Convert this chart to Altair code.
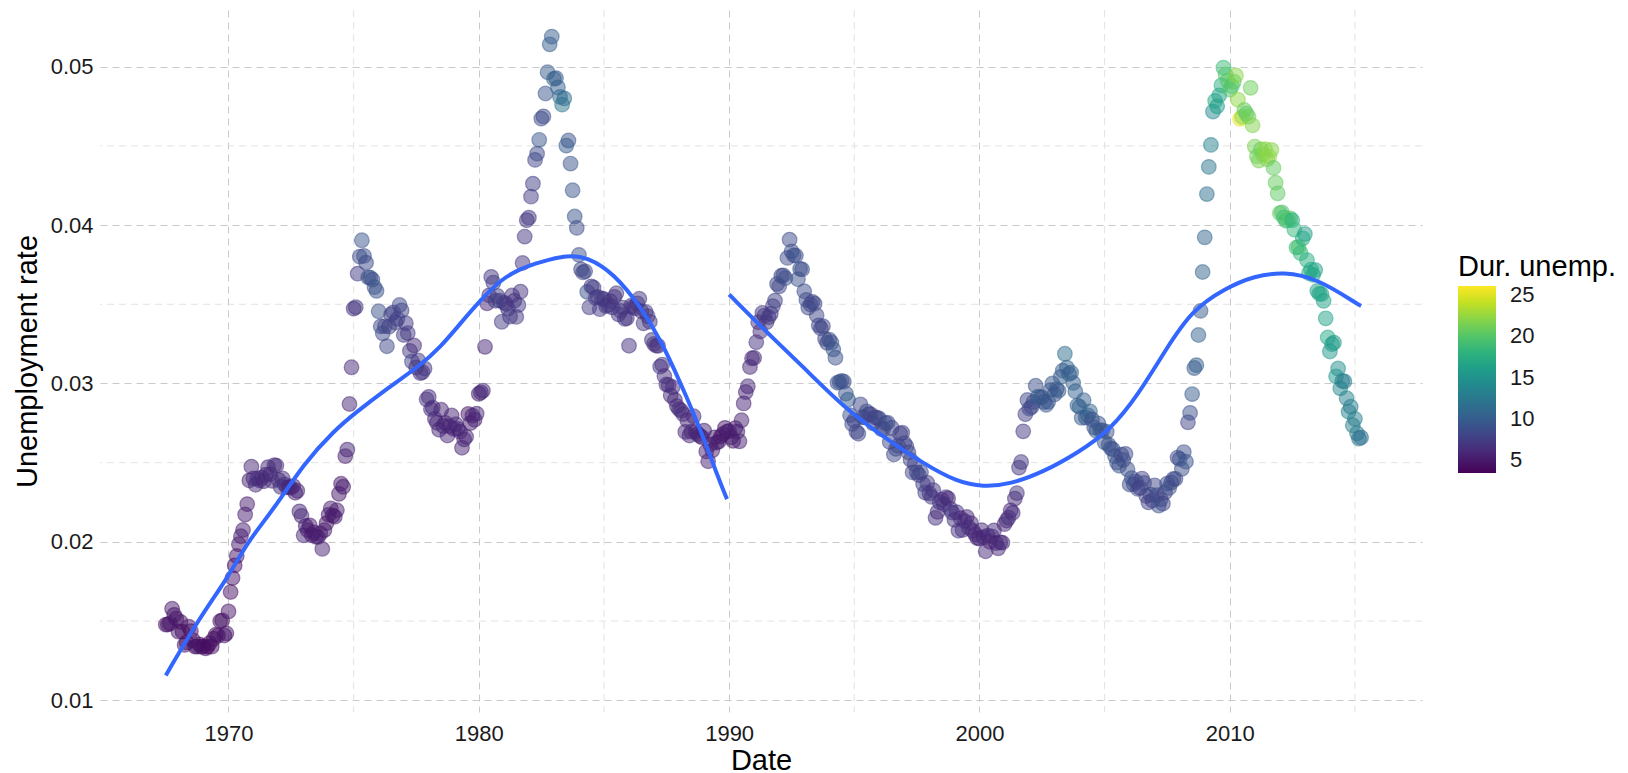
import altair as alt
import pandas as pd

# unemployed persons (thousands), monthly, Jul 1967 .. Apr 2015
unemployed = {
    1967: [2944, 2945, 2958, 3143, 3066, 3018],
    1968: [2878, 3001, 2877, 2709, 2740, 2938, 2883, 2768, 2686, 2689, 2715, 2685],
    1969: [2718, 2692, 2712, 2758, 2713, 2816, 2868, 2856, 3040, 3049, 2856, 2884],
    1970: [3201, 3453, 3635, 3797, 3919, 4071, 4175, 4256, 4456, 4591, 4898, 5076],
    1971: [4986, 4903, 4987, 4959, 4996, 4949, 5035, 5134, 5042, 4954, 5161, 5154],
    1972: [5019, 4928, 5038, 4959, 4922, 4923, 4913, 4939, 4849, 4875, 4602, 4543],
    1973: [4326, 4452, 4394, 4459, 4329, 4363, 4305, 4305, 4350, 4144, 4396, 4489],
    1974: [4644, 4731, 4634, 4618, 4705, 4927, 5063, 5022, 5437, 5523, 6140, 6636],
    1975: [7501, 7520, 7978, 8210, 8433, 8220, 8127, 7928, 7923, 7897, 7794, 7744],
    1976: [7534, 7326, 7230, 7330, 7053, 7322, 7490, 7518, 7380, 7430, 7620, 7545],
    1977: [7280, 7443, 7307, 7059, 6911, 7134, 6829, 6925, 6751, 6763, 6815, 6386],
    1978: [6489, 6318, 6337, 6180, 6127, 6028, 6309, 6080, 6125, 5947, 6077, 6228],
    1979: [6109, 6173, 6109, 6069, 5840, 5959, 5996, 6320, 6190, 6296, 6238, 6325],
    1980: [6683, 6702, 6729, 7358, 7984, 8098, 8363, 8281, 8021, 8088, 8023, 7718],
    1981: [8071, 8051, 7982, 7869, 8174, 8098, 7863, 8036, 8230, 8646, 9029, 9267],
    1982: [9397, 9705, 9895, 10244, 10335, 10538, 10849, 10881, 11217, 11529, 11938, 12051],
    1983: [11534, 11545, 11408, 11268, 11154, 11246, 10548, 10623, 10282, 9887, 9499, 9331],
    1984: [9008, 8791, 8746, 8762, 8456, 8226, 8537, 8519, 8367, 8381, 8198, 8358],
    1985: [8423, 8321, 8339, 8395, 8302, 8460, 8513, 8196, 8248, 8298, 8128, 8138],
    1986: [7795, 8402, 8383, 8364, 8439, 8508, 8319, 8135, 8310, 8243, 8159, 7883],
    1987: [7892, 7865, 7862, 7542, 7574, 7398, 7268, 7261, 7102, 7227, 7035, 6936],
    1988: [6953, 6929, 6876, 6601, 6779, 6546, 6605, 6843, 6604, 6568, 6537, 6518],
    1989: [6682, 6359, 6205, 6468, 6375, 6577, 6495, 6511, 6590, 6630, 6725, 6667],
    1990: [6752, 6651, 6598, 6797, 6742, 6590, 6922, 7188, 7368, 7459, 7764, 7901],
    1991: [8015, 8265, 8586, 8439, 8736, 8692, 8586, 8666, 8722, 8842, 8931, 9198],
    1992: [9283, 9454, 9460, 9415, 9744, 10040, 9850, 9787, 9781, 9398, 9565, 9557],
    1993: [9325, 9183, 9056, 9110, 9149, 9121, 8930, 8763, 8714, 8750, 8542, 8477],
    1994: [8630, 8583, 8470, 8331, 7915, 7927, 7946, 7933, 7734, 7632, 7375, 7230],
    1995: [7375, 7187, 7153, 7645, 7430, 7427, 7527, 7484, 7478, 7328, 7426, 7423],
    1996: [7491, 7313, 7318, 7415, 7423, 7095, 7337, 6882, 6979, 7031, 7236, 7253],
    1997: [7158, 7102, 7000, 6873, 6655, 6799, 6655, 6608, 6656, 6454, 6308, 6476],
    1998: [6368, 6306, 6422, 5941, 6047, 6212, 6259, 6179, 6300, 6280, 6100, 6032],
    1999: [5976, 6111, 5783, 6004, 5796, 5951, 6025, 5838, 5915, 5778, 5716, 5653],
    2000: [5708, 5858, 5733, 5481, 5758, 5651, 5747, 5853, 5625, 5534, 5639, 5634],
    2001: [6023, 6089, 6141, 6271, 6226, 6484, 6583, 7042, 7142, 7694, 8003, 8258],
    2002: [8182, 8215, 8304, 8599, 8399, 8393, 8390, 8304, 8251, 8307, 8520, 8640],
    2003: [8520, 8618, 8588, 8842, 8957, 9266, 9011, 8896, 8921, 8732, 8576, 8317],
    2004: [8370, 8167, 8491, 8170, 8212, 8286, 8136, 7990, 7927, 8061, 7932, 7934],
    2005: [7784, 7980, 7737, 7672, 7651, 7524, 7406, 7345, 7553, 7453, 7566, 7279],
    2006: [7064, 7184, 7072, 7120, 6980, 7001, 7175, 7091, 6847, 6727, 6872, 6762],
    2007: [7116, 6927, 6731, 6850, 6766, 6979, 7149, 7067, 7170, 7237, 7240, 7645],
    2008: [7685, 7497, 7822, 7637, 8395, 8575, 8937, 9438, 9494, 10074, 10538, 11286],
    2009: [12058, 12898, 13426, 13853, 14499, 14707, 14601, 14814, 15009, 15352, 15219, 15098],
    2010: [15046, 15113, 15202, 15325, 14849, 14474, 14512, 14648, 14579, 14516, 15081, 14348],
    2011: [14013, 13820, 13737, 13957, 13855, 13962, 13763, 13818, 13948, 13594, 13302, 13093],
    2012: [12797, 12813, 12713, 12646, 12660, 12692, 12656, 12471, 12115, 12124, 12005, 12298],
    2013: [12471, 11950, 11689, 11760, 11654, 11751, 11335, 11279, 11270, 11136, 10787, 10404],
    2014: [10202, 10349, 10380, 9702, 9859, 9460, 9608, 9599, 9262, 8990, 9090, 8717],
    2015: [8903, 8610, 8504, 8526],
}

# population (thousands), mid-year
population = {
    1967: 199200, 1968: 200700, 1969: 202700, 1970: 205100, 1971: 207700,
    1972: 209900, 1973: 211900, 1974: 213900, 1975: 216000, 1976: 218000,
    1977: 220200, 1978: 222600, 1979: 225100, 1980: 227700, 1981: 229900,
    1982: 232200, 1983: 234300, 1984: 236300, 1985: 238500, 1986: 240700,
    1987: 242800, 1988: 245000, 1989: 247300, 1990: 250100, 1991: 253500,
    1992: 256900, 1993: 260300, 1994: 263400, 1995: 266600, 1996: 269700,
    1997: 272900, 1998: 276100, 1999: 279300, 2000: 282400, 2001: 285200,
    2002: 288000, 2003: 290700, 2004: 293400, 2005: 296100, 2006: 299000,
    2007: 301900, 2008: 304700, 2009: 307400, 2010: 309900, 2011: 311700,
    2012: 314000, 2013: 316200, 2014: 318600, 2015: 320600,
}

# median duration of unemployment (weeks)
duration = {
    1967: [4.5, 4.7, 4.6, 4.9, 4.7, 4.8],
    1968: [5.1, 4.5, 4.1, 4.6, 4.4, 4.4, 4.5, 4.2, 4.6, 4.8, 4.4, 4.4],
    1969: [4.4, 4.9, 4.0, 4.0, 4.2, 4.4, 4.4, 4.4, 4.7, 4.5, 4.8, 4.6],
    1970: [4.6, 4.5, 4.6, 4.1, 4.7, 4.9, 5.1, 5.4, 5.2, 5.2, 5.6, 5.9],
    1971: [6.2, 6.3, 6.4, 6.5, 6.7, 5.7, 6.2, 6.4, 5.8, 6.5, 6.4, 6.2],
    1972: [6.2, 6.6, 6.6, 6.7, 6.6, 5.4, 6.1, 6.0, 5.6, 5.7, 5.7, 6.1],
    1973: [5.7, 5.2, 5.5, 5.0, 4.9, 5.0, 5.2, 4.9, 5.4, 5.5, 5.1, 4.7],
    1974: [5.0, 5.1, 4.8, 5.0, 5.1, 4.7, 5.0, 5.1, 5.1, 5.7, 5.7, 6.0],
    1975: [6.3, 7.1, 7.2, 8.7, 9.4, 8.8, 8.6, 9.2, 9.2, 8.6, 9.5, 9.0],
    1976: [9.0, 8.2, 8.7, 8.2, 8.3, 7.8, 7.7, 7.9, 7.8, 7.7, 8.4, 8.0],
    1977: [7.5, 7.2, 7.2, 7.3, 7.9, 6.2, 7.1, 7.0, 6.7, 6.9, 7.0, 6.8],
    1978: [6.5, 6.7, 6.2, 6.1, 5.7, 6.0, 5.8, 5.8, 5.6, 5.9, 5.5, 5.6],
    1979: [5.9, 5.9, 5.9, 5.4, 5.6, 5.6, 5.9, 4.8, 5.5, 5.5, 5.3, 5.7],
    1980: [5.3, 5.8, 6.0, 5.8, 5.7, 6.4, 7.0, 7.5, 7.7, 7.5, 7.7, 7.5],
    1981: [7.4, 7.1, 7.1, 7.4, 6.9, 6.6, 7.1, 7.2, 6.8, 6.8, 6.9, 6.9],
    1982: [7.1, 7.5, 7.7, 8.1, 8.5, 9.5, 8.5, 8.7, 9.5, 9.7, 10.0, 10.2],
    1983: [11.1, 9.8, 10.4, 10.9, 12.3, 11.3, 10.1, 9.3, 9.3, 9.4, 9.3, 8.7],
    1984: [9.1, 8.3, 8.3, 8.2, 9.1, 7.5, 7.5, 7.3, 7.6, 7.2, 7.2, 7.3],
    1985: [6.8, 7.1, 7.1, 6.9, 6.9, 6.6, 6.9, 7.1, 6.9, 7.1, 7.0, 6.8],
    1986: [6.7, 6.9, 6.8, 6.7, 6.8, 7.0, 6.9, 7.1, 7.4, 7.0, 7.1, 7.1],
    1987: [6.9, 6.6, 6.6, 7.1, 6.6, 6.5, 6.5, 6.4, 6.0, 6.3, 6.2, 6.0],
    1988: [6.2, 6.3, 6.4, 5.9, 5.9, 5.8, 6.1, 5.9, 5.7, 5.6, 5.7, 5.9],
    1989: [5.6, 5.4, 5.4, 5.4, 5.3, 5.4, 5.6, 5.0, 4.9, 4.9, 4.8, 4.8],
    1990: [5.3, 5.1, 4.8, 5.2, 5.2, 5.4, 5.4, 5.6, 5.8, 5.7, 5.9, 6.0],
    1991: [6.2, 6.7, 6.6, 6.4, 6.9, 7.0, 7.3, 6.8, 7.2, 7.5, 7.8, 8.1],
    1992: [8.2, 8.3, 8.5, 8.8, 8.7, 8.6, 8.8, 8.6, 9.0, 9.0, 9.3, 8.6],
    1993: [8.5, 8.5, 8.4, 8.1, 8.3, 8.2, 8.2, 8.3, 8.0, 8.3, 8.3, 8.0],
    1994: [8.6, 9.2, 9.3, 9.1, 9.2, 9.3, 9.0, 8.9, 9.2, 10.0, 9.0, 8.7],
    1995: [8.0, 8.1, 8.3, 8.3, 9.1, 7.9, 8.5, 8.3, 7.9, 8.2, 8.0, 8.3],
    1996: [8.3, 7.8, 8.3, 8.6, 8.6, 8.3, 8.3, 8.4, 8.5, 8.3, 7.7, 7.8],
    1997: [7.8, 8.1, 7.9, 8.3, 8.0, 8.0, 8.3, 7.8, 8.2, 7.7, 7.6, 7.5],
    1998: [7.4, 7.0, 6.8, 6.7, 6.0, 6.9, 6.7, 6.8, 6.7, 5.8, 6.6, 6.8],
    1999: [6.9, 6.8, 6.8, 6.2, 6.5, 6.3, 5.8, 6.5, 6.0, 6.1, 6.2, 5.8],
    2000: [5.8, 6.1, 6.0, 6.1, 5.8, 5.7, 6.0, 6.3, 5.2, 6.1, 6.1, 6.0],
    2001: [5.8, 6.1, 6.6, 5.9, 6.3, 6.0, 6.8, 6.9, 7.2, 7.3, 7.7, 8.2],
    2002: [8.4, 8.3, 8.4, 8.9, 9.5, 11.0, 8.9, 9.0, 9.5, 9.6, 9.3, 9.6],
    2003: [9.6, 9.5, 9.7, 10.2, 9.9, 11.5, 10.3, 10.1, 10.2, 10.4, 10.3, 10.4],
    2004: [10.6, 10.2, 10.2, 9.5, 9.9, 11.0, 8.9, 9.2, 9.6, 9.5, 9.7, 9.5],
    2005: [9.4, 9.2, 9.3, 9.0, 9.1, 9.0, 8.8, 9.2, 8.4, 8.6, 8.5, 8.7],
    2006: [8.6, 9.1, 8.7, 8.4, 8.5, 7.3, 8.0, 8.4, 8.0, 7.9, 8.3, 7.5],
    2007: [8.3, 8.5, 9.1, 8.6, 8.2, 7.7, 8.7, 8.8, 8.7, 8.4, 8.6, 8.4],
    2008: [9.0, 8.7, 8.7, 9.4, 7.9, 9.0, 9.7, 9.7, 10.2, 10.4, 9.8, 10.5],
    2009: [10.7, 11.7, 12.3, 13.1, 14.2, 17.2, 16.0, 16.3, 17.8, 18.9, 19.8, 20.1],
    2010: [20.0, 19.9, 20.4, 22.1, 22.3, 25.2, 22.3, 21.0, 20.3, 21.2, 21.0, 21.9],
    2011: [21.5, 21.1, 21.5, 20.9, 21.6, 22.3, 22.0, 22.4, 22.0, 20.6, 20.8, 20.5],
    2012: [20.8, 19.7, 19.2, 19.1, 19.9, 20.1, 17.5, 18.5, 18.8, 19.7, 18.5, 17.6],
    2013: [16.2, 17.5, 17.7, 17.1, 17.1, 16.5, 16.3, 16.9, 16.9, 16.5, 16.5, 17.1],
    2014: [15.4, 15.9, 15.8, 15.7, 14.6, 13.8, 13.1, 12.9, 13.4, 13.6, 12.8, 12.8],
    2015: [13.2, 12.9, 12.0, 11.5],
}

# smoothed trend (before / after 1990)
smooth_early_dates = ["1967-07-01", "1968-10-05", "1970-01-01", "1970-10-05", "1971-10-30",
                      "1973-01-12", "1974-03-28", "1975-01-12", "1976-05-08", "1977-09-05",
                      "1978-06-21", "1979-04-09", "1980-01-26", "1980-11-10", "1981-08-28",
                      "1982-06-21", "1983-07-12", "1984-05-01", "1985-05-27", "1986-06-21",
                      "1987-04-09", "1988-01-26", "1988-11-14", "1989-08-08", "1989-12-01"]
smooth_early_rate = [0.01157, 0.0150, 0.0178, 0.0200, 0.0221,
                     0.0250, 0.02704, 0.0281, 0.0297, 0.03116,
                     0.0323, 0.0338, 0.03526, 0.03653, 0.03726,
                     0.03768, 0.0381, 0.0380, 0.03695, 0.03484,
                     0.03274, 0.0300, 0.02705, 0.02389, 0.0227]
smooth_late_dates = ["1990-01-01", "1991-06-28", "1992-12-16", "1994-07-23", "1996-03-01",
                     "1997-10-05", "1999-02-03", "2000-03-01", "2001-03-26", "2002-07-23",
                     "2003-11-20", "2005-03-26", "2006-05-19", "2007-06-06", "2008-06-28",
                     "2009-10-20", "2010-12-28", "2012-03-03", "2013-06-28", "2015-01-26",
                     "2015-04-01"]
smooth_late_rate = [0.03562, 0.03326, 0.03105, 0.02853, 0.02663,
                    0.02495, 0.02379, 0.02347, 0.02364, 0.02442,
                    0.02558, 0.02705, 0.02937, 0.0321, 0.03463,
                    0.0360, 0.0368, 0.03705, 0.03663, 0.03505,
                    0.0349]

rate_ticks = [0.01, 0.02, 0.03, 0.04, 0.05]
rate_minor = [0.015, 0.025, 0.035, 0.045]
year_ticks = [1970, 1980, 1990, 2000, 2010]
year_minor = ["1975-01-01", "1985-01-01", "1995-01-01", "2005-01-01", "2015-01-01"]
duration_ticks = [5, 10, 15, 20, 25]

rows = []
for year, counts in unemployed.items():
    first = 7 if year == 1967 else 1
    for i, (u, d) in enumerate(zip(counts, duration[year])):
        rows.append({"date": f"{year}-{first + i:02d}-01",
                     "rate": u / population[year], "uempmed": d})
econ = pd.DataFrame(rows)

smooth = pd.concat([
    pd.DataFrame({"date": smooth_early_dates, "rate": smooth_early_rate, "part": "early"}),
    pd.DataFrame({"date": smooth_late_dates, "rate": smooth_late_rate, "part": "late"}),
])

FONT = "Liberation Sans"
grid = "#c9c9c9"
minor_grid = "#e2e2e2"

x_scale = alt.Scale(domain=[alt.DateTime(year=1964, month=11, date=13),
                            alt.DateTime(year=2017, month=9, date=6)])
y_scale = alt.Scale(domain=[0.00926, 0.05358], zero=False, nice=False)

x_axis = alt.Axis(values=[alt.DateTime(year=y) for y in year_ticks], format="%Y",
                  grid=True, gridColor=grid, gridDash=[7, 5], domain=False,
                  ticks=False, labelPadding=11, titlePadding=2)
y_axis = alt.Axis(values=rate_ticks, format=".2f", grid=True, gridColor=grid,
                  gridDash=[7, 5], domain=False, ticks=False,
                  labelPadding=7, titlePadding=8)

minor_y = alt.Chart(pd.DataFrame({"rate": rate_minor})).mark_rule(
    color=minor_grid, strokeDash=[7, 5], strokeWidth=1
).encode(y=alt.Y("rate:Q", scale=y_scale, axis=y_axis, title="Unemployment rate"))

minor_x = alt.Chart(pd.DataFrame({"date": year_minor})).mark_rule(
    color=minor_grid, strokeDash=[7, 5], strokeWidth=1
).encode(x=alt.X("date:T", scale=x_scale, axis=x_axis, title="Date"))

points = alt.Chart(econ).mark_circle(
    size=215, opacity=1, fillOpacity=0.5, strokeOpacity=0.5, strokeWidth=1.2,
    stroke=alt.expr("scale('color', datum.uempmed)"),
).encode(
    x=alt.X("date:T", scale=x_scale, axis=x_axis, title="Date"),
    y=alt.Y("rate:Q", scale=y_scale, axis=y_axis, title="Unemployment rate"),
    color=alt.Color("uempmed:Q", title="Dur. unemp.",
                    scale=alt.Scale(scheme="viridis", domain=[3.46, 26.1]),
                    legend=alt.Legend(values=duration_ticks, orient="none",
                                      legendX=1358, legendY=243,
                                      gradientLength=187, gradientThickness=38,
                                      gradientStrokeWidth=0, titlePadding=4,
                                      labelOffset=14)),
)

trend = alt.Chart(smooth).mark_line(
    color="#3366FF", strokeWidth=4, interpolate="basis"
).encode(
    x=alt.X("date:T", scale=x_scale, axis=x_axis, title="Date"),
    y=alt.Y("rate:Q", scale=y_scale, axis=y_axis, title="Unemployment rate"),
    detail="part:N",
)

chart = alt.layer(minor_y, minor_x, points, trend).properties(
    width=1322, height=702,
    padding={"left": 92, "top": 2, "right": 198, "bottom": 63},
    autosize=alt.AutoSizeParams(type="none"),
    background="white",
).configure_view(stroke=None).configure_axis(
    labelFont=FONT, labelFontSize=22, labelColor="#1a1a1a",
    titleFont=FONT, titleFontSize=29, titleFontWeight="normal", titleColor="black",
).configure_legend(
    titleFont=FONT, titleFontSize=29, titleFontWeight="normal", titleColor="black",
    labelFont=FONT, labelFontSize=22, labelColor="#1a1a1a",
)

chart.save("out.html", embed_options={"renderer": "svg", "actions": False})
